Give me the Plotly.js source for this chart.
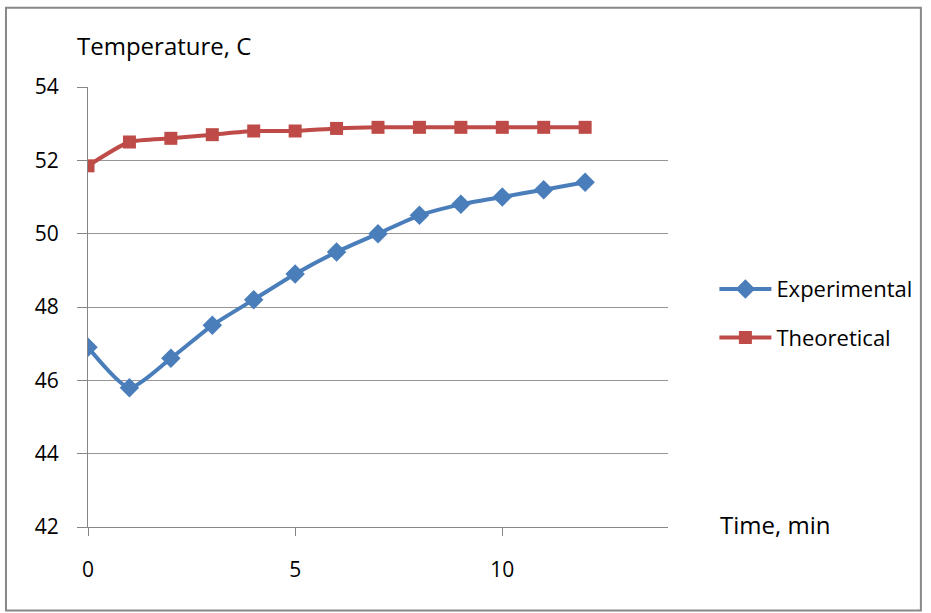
<!DOCTYPE html>
<html><head><meta charset="utf-8">
<script src="https://cdn.plot.ly/plotly-3.0.1.min.js"></script>
<style>html,body{margin:0;padding:0;background:#fff}#chart{width:931px;height:613px}</style>
</head><body><div id="chart"></div>
<script>
const timeMin = [0,1,2,3,4,5,6,7,8,9,10,11,12];
const experimental = [46.9,45.8,46.6,47.5,48.2,48.9,49.5,50.0,50.5,50.8,51.0,51.2,51.4];
const theoretical = [51.85,52.5,52.6,52.7,52.8,52.8,52.87,52.9,52.9,52.9,52.9,52.9,52.9];
const seriesNames = ['Experimental','Theoretical'];
const yTicks = [42,44,46,48,50,52,54];
const xTicks = [0,5,10];

const FONT = '"Open Sans", sans-serif';
const traces = [
  {x: timeMin, y: experimental, name: seriesNames[0], legendgroup:'a', type:'scatter', mode:'lines+markers',
   line:{color:'#4a7ebb', width:4, shape:'spline', smoothing:0.6},
   marker:{symbol:'diamond', size:15, color:'#4a7ebb'}},
  {x: timeMin, y: theoretical, name: seriesNames[1], legendgroup:'b', type:'scatter', mode:'lines+markers',
   line:{color:'#be4b48', width:4, shape:'spline', smoothing:0.6},
   marker:{symbol:'square', size:13, color:'#be4b48'}}
];
const layout = {
  width:931, height:613,
  margin:{l:88, r:263, t:87, b:86},
  paper_bgcolor:'#fff', plot_bgcolor:'#fff',
  font:{family:FONT, size:21, color:'#000'},
  showlegend:true,
  legend:{x:1.08, y:0.485, xanchor:'left', yanchor:'middle', font:{family:FONT, size:22},
          traceorder:'grouped', tracegroupgap:17, itemwidth:52},
  xaxis:{range:[0,14], tickvals:xTicks, ticks:'outside', ticklen:8, tickcolor:'#868686',
         showline:true, linecolor:'#868686', linewidth:1, showgrid:false, zeroline:false,
         tickfont:{family:FONT, size:21}, ticklabelstandoff:16},
  yaxis:{range:[42,54], tickvals:yTicks, ticks:'outside', ticklen:10, tickcolor:'#868686',
         showline:true, linecolor:'#868686', linewidth:1, showgrid:true, gridcolor:'#969696', gridwidth:1,
         zeroline:false, tickfont:{family:FONT, size:21}, ticklabelstandoff:14},
  annotations:[
    {text:'Temperature, C', xref:'paper', yref:'paper', x:-0.022, y:1.0, yshift:42, xanchor:'left', yanchor:'middle',
     showarrow:false, font:{family:FONT, size:24}},
    {text:'Time, min', xref:'paper', yref:'paper', x:1.0, xshift:50, y:0, yshift:3, xanchor:'left', yanchor:'middle',
     showarrow:false, font:{family:FONT, size:24}}
  ],
  shapes:[
    {type:'rect', xref:'paper', yref:'paper', x0:-0.1414, x1:1.436, y0:-0.19, y1:1.18,
     line:{color:'#888', width:2}, fillcolor:'rgba(0,0,0,0)', layer:'below'}
  ]
};
Plotly.newPlot('chart', traces, layout, {displayModeBar:false, staticPlot:true});
</script></body></html>
